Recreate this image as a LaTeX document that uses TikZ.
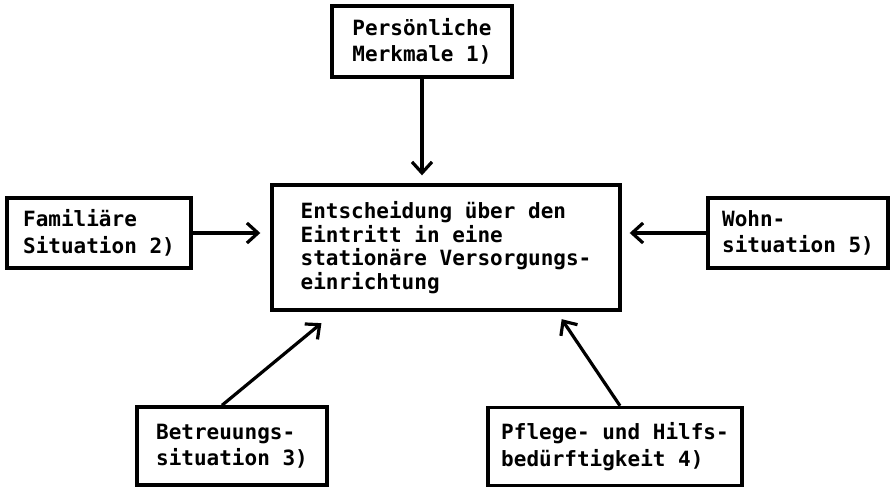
\documentclass[tikz,border=0pt]{standalone}
\usepackage{fontspec}
\setmonofont{DejaVu Sans Mono}
\usetikzlibrary{arrows.meta}
\newlength{\du}
\setlength{\du}{1pt}

\begin{document}
\begin{tikzpicture}[
  kasten/.style={draw=dialinecolor, line width=3.4\du, inner sep=0pt, align=left,
    font=\ttfamily\bfseries\fontsize{21}{26.5}\selectfont},
  pfeil/.style={draw=dialinecolor, line width=3.2\du,
    -{Straight Barb[length=11pt,width=20pt]}}
]
\pgftransformxscale{1.000000}
\pgftransformyscale{-1.000000}
\definecolor{dialinecolor}{rgb}{0.000000, 0.000000, 0.000000}
\useasboundingbox (0\du,0\du) rectangle (892\du,488\du);
% setfont left to latex
\node[kasten, minimum width=180\du, minimum height=71\du] (pers) at (422\du,41.5\du){Persönliche\\Merkmale 1)};
\node[kasten, minimum width=348\du, minimum height=125\du, font=\ttfamily\bfseries\fontsize{21}{23.5}\selectfont] (entsch) at (446\du,247.5\du){Entscheidung über den\\Eintritt in eine\\stationäre Versorgungs-\\einrichtung};
\node[kasten, minimum width=184\du, minimum height=70\du] (fam) at (99\du,233\du){Familiäre\\Situation 2)};
\node[kasten, minimum width=180\du, minimum height=70\du] (wohn) at (798\du,233\du){Wohn-\\situation 5)};
\node[kasten, minimum width=190\du, minimum height=78\du] (betr) at (232\du,446\du){Betreuungs-\\situation 3)};
\node[kasten, minimum width=254\du, minimum height=78\du] (pflege) at (615\du,446.5\du){Pflege- und Hilfs-\\bedürftigkeit 4)};
% was here!!!
\draw[pfeil, shorten >=8\du] (pers.south) -- (pers.south |- entsch.north);
\draw[pfeil, shorten >=10\du] (fam.east) -- (fam.east -| entsch.west);
\draw[pfeil, shorten >=8\du] (wohn.west) -- (wohn.west -| entsch.east);
\draw[pfeil, shorten >=18\du] ([xshift=-10\du]betr.north) -- ([xshift=65\du]entsch.south west);
\draw[pfeil, shorten >=9\du] ([xshift=5\du]pflege.north) -- ([xshift=-65\du]entsch.south east);
\end{tikzpicture}
\end{document}
